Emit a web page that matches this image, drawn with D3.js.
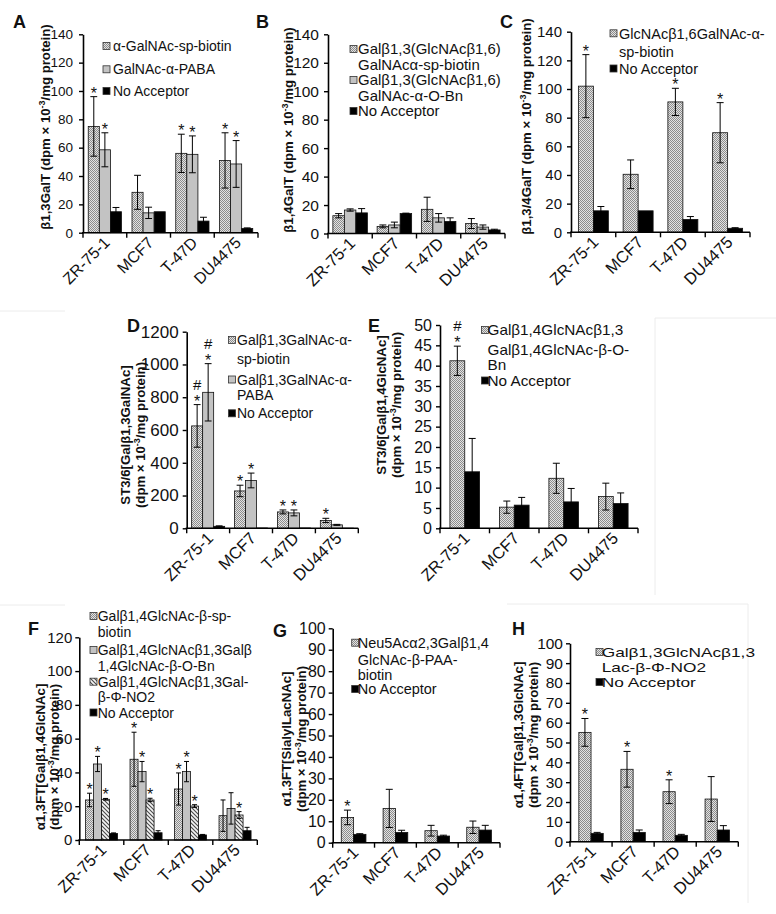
<!DOCTYPE html>
<html><head><meta charset="utf-8">
<script src="https://cdn.jsdelivr.net/npm/d3@7"></script>
<style>
body{margin:0;background:#fff;}
svg{display:block;font-family:"Liberation Sans",Arial,Helvetica,sans-serif;}
</style></head><body>
<svg id="chart" width="776" height="914"></svg>
<script>
// ---------------- DATA ----------------
const categories = ["ZR-75-1","MCF7","T-47D","DU4475"];

// A
const aTitle = ["β1,3GalT (dpm × 10^-3^/mg protein)"];
const aLegend = [["α-GalNAc-sp-biotin"],["GalNAc-α-PABA"],["No Acceptor"]];
const aValues = [[75,28.5,56,51],[58.5,14,55.3,48.5],[14.8,14.8,8.2,3]];
const aErrors = [[21,12,13.5,19.5],[12,4,13,16.5],[3,0,2.7,0.4]];
const aMarks  = [["*","","*","*"],["*","","*","*"],["","","",""]];
const aTicks  = [0,20,40,60,80,100,120,140];

// B
const bTitle = ["β1,4GalT (dpm × 10^-3^/mg protein)"];
const bLegend = [["Galβ1,3(GlcNAcβ1,6)","GalNAcα-sp-biotin"],["Galβ1,3(GlcNAcβ1,6)","GalNAc-α-O-Bn"],["No Acceptor"]];
const bValues = [[12.5,5,17,7],[16.5,6,11,4.5],[14.5,14,8.5,2.5]];
const bErrors = [[1.5,1,8.5,3.5],[0.8,2,3,1.5],[3,0.3,2.5,0.5]];
const bMarks  = [["","","",""],["","","",""],["","","",""]];
const bTicks  = [0,20,40,60,80,100,120,140];

// C
const cTitle = ["β1,3/4GalT (dpm × 10^-3^/mg protein)"];
const cLegend = [["GlcNAcβ1,6GalNAc-α-","sp-biotin"],["No Acceptor"]];
const cValues = [[102,40.5,91,69.5],[15,15,9,2.8]];
const cErrors = [[22,10,9.5,21],[3,0.2,2,0.4]];
const cMarks  = [["*","","*","*"],["","","",""]];
const cTicks  = [0,20,40,60,80,100,120,140];

// D
const dTitle = ["ST3/6[Galβ1,3GalNAc]","(dpm × 10^-3^/mg protein)"];
const dLegend = [["Galβ1,3GalNAc-α-","sp-biotin"],["Galβ1,3GalNAc-α-","PABA"],["No Acceptor"]];
const dValues = [[625,228,100,48],[830,292,94,21],[12,2,2,1]];
const dErrors = [[130,35,12,13],[175,45,18,3],[3,0,0,0]];
const dMarks  = [["*#","*","*","*"],["*#","*","*",""],["","","",""]];
const dTicks  = [0,200,400,600,800,1000,1200];

// E
const eTitle = ["ST3/6[Galβ1,4GlcNAc]","(dpm × 10^-3^/mg protein)"];
const eLegend = [["Galβ1,4GlcNAcβ1,3","Galβ1,4GlcNAc-β-O-","Bn"],["No Acceptor"]];
const eValues = [[41.2,5.2,12.3,7.8],[13.9,5.7,6.5,6.1]];
const eErrors = [[3.6,1.5,3.7,3.3],[8.2,1.9,3.3,2.6]];
const eMarks  = [["*#","","",""],["","","",""]];
const eTicks  = [0,5,10,15,20,25,30,35,40,45,50];

// F
const fTitle = ["α1,3FT[Galβ1,4GlcNAc]","(dpm × 10^-3^/mg protein)"];
const fLegend = [["Galβ1,4GlcNAc-β-sp-","biotin"],["Galβ1,4GlcNAcβ1,3Galβ","1,4GlcNAc-β-O-Bn"],["Galβ1,4GlcNAcβ1,3Gal-","β-Φ-NO2"],["No Acceptor"]];
const fValues = [[23.7,47.8,30.2,14.4],[45,40.5,40.5,18.7],[24.1,23.7,20.1,14.8],[3.9,4.3,3,5.5]];
const fErrors = [[4,16,9.5,9.3],[4.5,6,6,9.3],[0.5,1,0.8,2],[0.3,1.2,0.3,2]];
const fMarks  = [["*","*","*",""],["*","*","*",""],["*","*","*","*"],["","","",""]];
const fTicks  = [0,20,40,60,80,100,120];

// G
const gTitle = ["α1,3FT[SialylLacNAc]","(dpm × 10^-3^/mg protein)"];
const gLegend = [["Neu5Acα2,3Galβ1,4","GlcNAc-β-PAA-","biotin"],["No Acceptor"]];
const gValues = [[11.8,16,5.6,7.2],[3.9,4.8,3.1,5.9]];
const gErrors = [[3.4,8.9,2.5,2.9],[0.3,1,0.4,2.2]];
const gMarks  = [["*","","",""],["","","",""]];
const gTicks  = [0,10,20,30,40,50,60,70,80,90,100];

// H
const hTitle = ["α1,4FT[Galβ1,3GlcNAc]","(dpm × 10^-3^/mg protein)"];
const hLegend = [["Galβ1,3GlcNAcβ1,3","Lac-β-Φ-NO2"],["No Acceptor"]];
const hValues = [[55.1,36.5,25.2,21.5],[4.2,4.7,3.2,5.9]];
const hErrors = [[7,9,6,11.3],[0.5,1.2,0.5,2.2]];
const hMarks  = [["*","*","*",""],["","","",""]];
const hTicks  = [0,10,20,30,40,50,60,70,80,90,100];

// ---------------- LAYOUT ----------------
const panels = [
 {id:"A",title:aTitle,legend:aLegend,values:aValues,errors:aErrors,marks:aMarks,ticks:aTicks,fills:["dots","gray","black"],
  x0:83,x1:258,yTop:34.3,yBot:232.7,group:0.76,lab:[13,28],tx:[45],tyc:127,sw:103,txl:113,rows:[46,69.3,91],
  tfs:13.5,lfs:14,lsx:1,xfs:16,pad:6},
 {id:"B",title:bTitle,legend:bLegend,values:bValues,errors:bErrors,marks:bMarks,ticks:bTicks,fills:["dots","gray","black"],
  x0:328,x1:505,yTop:34.3,yBot:233.5,group:0.78,lab:[256,28],tx:[288.5],tyc:130,sw:350,txl:358,rows:[49,64.5,80,95.5,111],
  tfs:15.5,lfs:14,lsx:1.07,xfs:16.5,pad:5},
 {id:"C",title:cTitle,legend:cLegend,values:cValues,errors:cErrors,marks:cMarks,ticks:cTicks,fills:["dots","black"],
  x0:571,x1:750,yTop:31.7,yBot:232.3,group:0.67,lab:[500,28],tx:[526],tyc:126.5,sw:610,txl:619,rows:[33.3,52,68.5],
  tfs:15,lfs:14.5,lsx:1,xfs:16.5,pad:5},
 {id:"D",title:dTitle,legend:dLegend,values:dValues,errors:dErrors,marks:dMarks,ticks:dTicks,fills:["dots","gray","black"],
  x0:186.7,x1:358.3,yTop:331.7,yBot:528.3,group:0.77,lab:[127,332],tx:[125.5,140.5],tyc:435,sw:228.5,txl:237,rows:[340,359.3,379.5,395,413.3],
  tfs:17,lfs:14,lsx:1,xfs:16.5,pad:4},
 {id:"E",title:eTitle,legend:eLegend,values:eValues,errors:eErrors,marks:eMarks,ticks:eTicks,fills:["dots","black"],
  x0:440,x1:638,yTop:325,yBot:528.3,group:0.6,lab:[368,332],tx:[381,396],tyc:405,sw:481.5,txl:487.5,rows:[330,349.3,365,380.5],
  tfs:16,lfs:15,lsx:1.02,xfs:16.5,pad:4},
 {id:"F",title:fTitle,legend:fLegend,values:fValues,errors:fErrors,marks:fMarks,ticks:fTicks,fills:["dots","gray","stripes","black"],
  x0:79.3,x1:257.3,yTop:637.3,yBot:840,group:0.72,lab:[28,635],tx:[40,54],tyc:757,sw:90,txl:97.7,rows:[616,631.7,650,665.5,681.7,697,712.5],
  tfs:15,lfs:14,lsx:1,xfs:16.5,pad:3},
 {id:"G",title:gTitle,legend:gLegend,values:gValues,errors:gErrors,marks:gMarks,ticks:gTicks,fills:["dots","black"],
  x0:332.7,x1:500,yTop:628.3,yBot:842.7,group:0.59,lab:[273,637],tx:[286,301],tyc:739,sw:351.7,txl:357.7,rows:[642.7,659.3,674.5,689],
  tfs:16,lfs:14.5,lsx:1,xfs:16.5,pad:3},
 {id:"H",title:hTitle,legend:hLegend,values:hValues,errors:hErrors,marks:hMarks,ticks:hTicks,fills:["dots","black"],
  x0:570,x1:738.3,yTop:643.3,yBot:841.7,group:0.58,lab:[512,635],tx:[518,533],tyc:735,sw:596,txl:601.7,rows:[652,667,682],
  tfs:15.5,lfs:13.5,lsx:1.28,xfs:16.5,pad:3}
];

const FONT = '"Liberation Sans",Arial,Helvetica,sans-serif';
const TITLE_FS = 13.2, STAR_FS = 15;

const svg = d3.select("#chart");
svg.append("rect").attr("width",776).attr("height",914).attr("fill","#fff");

// faint frame remnants
const faint = svg.append("g").attr("fill","none").attr("stroke","#ececec").attr("stroke-width",1);
faint.append("path").attr("d","M0,311H65");
faint.append("path").attr("d","M655,318H776M655,318V595");
faint.append("path").attr("d","M0,605H65");
faint.append("path").attr("d","M507,604H748V903");

// patterns
const defs = svg.append("defs");
const dots = defs.append("pattern").attr("id","dots").attr("patternUnits","userSpaceOnUse").attr("width",2).attr("height",2);
dots.append("rect").attr("width",2).attr("height",2).attr("fill","#e3e3e3");
dots.append("rect").attr("x",0).attr("y",0).attr("width",1).attr("height",1).attr("fill","#8c8c8c");
dots.append("rect").attr("x",1).attr("y",1).attr("width",1).attr("height",1).attr("fill","#8c8c8c");
const stripes = defs.append("pattern").attr("id","stripes").attr("patternUnits","userSpaceOnUse").attr("width",4).attr("height",4);
stripes.append("rect").attr("width",4).attr("height",4).attr("fill","#f4f4f4");
stripes.append("path").attr("d","M-1,-1L5,5M-1,3L1,5M3,-1L5,1").attr("stroke","#4a4a4a").attr("stroke-width",1.1);

function fillFor(k){
  if(k==="dots") return "url(#dots)";
  if(k==="stripes") return "url(#stripes)";
  if(k==="gray") return "#c3c3c3";
  return "#000";
}

function richText(sel, str, fs){
  const parts = str.split("^");
  sel.append("tspan").text(parts[0]);
  if(parts.length>1){
    sel.append("tspan").attr("dy",-fs*0.38).attr("font-size",fs*0.68).text(parts[1]);
    sel.append("tspan").attr("dy",fs*0.38).text(parts[2]);
  }
}

panels.forEach(p=>{
  const g = svg.append("g");
  const x = d3.scaleBand().domain(categories).range([p.x0,p.x1]).padding(0);
  const y = d3.scaleLinear().domain([0,d3.max(p.ticks)]).range([p.yBot,p.yTop]);
  const n = p.values.length;
  const gw = x.bandwidth()*p.group, bw = gw/n;
  const bx = (i,s)=> x(categories[i]) + (x.bandwidth()-gw)/2 + s*bw;

  // bars
  p.values.forEach((vals,s)=>{
    g.append("g").selectAll("rect").data(vals).enter().append("rect")
      .attr("x",(d,i)=>bx(i,s)).attr("y",d=>y(d))
      .attr("width",bw).attr("height",d=>y(0)-y(d))
      .attr("fill",fillFor(p.fills[s])).attr("stroke","#111").attr("stroke-width",0.8);
  });
  // error bars + marks
  p.values.forEach((vals,s)=>{
    vals.forEach((v,i)=>{
      const e = p.errors[s][i];
      const cx = bx(i,s)+bw/2;
      const cap = Math.min(7,bw*0.62)/2;
      if(e>0.25){
        g.append("path").attr("d",`M${cx},${y(v-e)}V${y(v+e)}M${cx-cap},${y(v+e)}H${cx+cap}M${cx-cap},${y(v-e)}H${cx+cap}`)
          .attr("stroke","#000").attr("stroke-width",1).attr("fill","none");
      }
      const m = p.marks[s][i];
      if(m){
        let base = y(v+e)-2;
        for(const ch of m){
          g.append("text").attr("x",cx).attr("y",ch==="*"?base+4:base).attr("text-anchor","middle")
            .attr("font-size",ch==="*"?STAR_FS+1:STAR_FS).attr("font-family",FONT).attr("fill","#111").text(ch);
          base -= (ch==="*"?13:16);
        }
      }
    });
  });

  // y axis
  const ax = g.append("g").attr("transform",`translate(${p.x0},0)`)
    .call(d3.axisLeft(y).tickValues(p.ticks).tickFormat(d3.format("d")).tickSize(4).tickSizeOuter(0).tickPadding(p.pad));
  ax.select(".domain").attr("stroke","#000").attr("stroke-width",1.6);
  ax.selectAll(".tick line").attr("stroke","#000").attr("stroke-width",1.4);
  ax.selectAll(".tick text").attr("font-size",p.tfs).attr("font-family",FONT).attr("fill","#111");

  // x axis
  g.append("line").attr("x1",p.x0-1).attr("x2",p.x1).attr("y1",p.yBot).attr("y2",p.yBot)
    .attr("stroke","#000").attr("stroke-width",1.6);
  const bounds = categories.map(c=>x(c)).concat([p.x1]);
  g.selectAll(null).data(bounds).enter().append("line")
    .attr("x1",d=>d).attr("x2",d=>d).attr("y1",p.yBot).attr("y2",p.yBot+5)
    .attr("stroke","#000").attr("stroke-width",1.4);
  g.selectAll(null).data(categories).enter().append("text")
    .attr("transform",c=>`translate(${x(c)+x.bandwidth()/2+6},${p.yBot+11}) rotate(-45)`)
    .attr("text-anchor","end").attr("font-size",p.xfs).attr("font-family",FONT).attr("fill","#111").text(c=>c);

  // y title
  p.title.forEach((t,k)=>{
    const te = g.append("text")
      .attr("transform",`translate(${p.tx[k]+TITLE_FS*0.36},${p.tyc}) rotate(-90)`)
      .attr("text-anchor","middle").attr("font-size",TITLE_FS).attr("font-weight","bold")
      .attr("font-family",FONT).attr("fill","#111");
    richText(te,t,TITLE_FS);
  });

  // panel letter
  g.append("text").attr("x",p.lab[0]).attr("y",p.lab[1]).attr("font-size",18).attr("font-weight","bold")
    .attr("font-family",FONT).attr("fill","#111").text(p.id);

  // legend
  let r = 0;
  p.legend.forEach((lines,s)=>{
    const cy = p.rows[r];
    g.append("rect").attr("x",p.sw).attr("y",cy-3.5).attr("width",7).attr("height",7)
      .attr("fill",fillFor(p.fills[s])).attr("stroke","#333").attr("stroke-width",0.8);
    lines.forEach(line=>{
      g.append("text")
        .attr("transform",`translate(${p.txl},${p.rows[r]+p.lfs*0.36}) scale(${p.lsx},1)`)
        .attr("font-size",p.lfs).attr("font-family",FONT).attr("fill","#111").text(line);
      r++;
    });
  });
});
</script>
</body></html>
